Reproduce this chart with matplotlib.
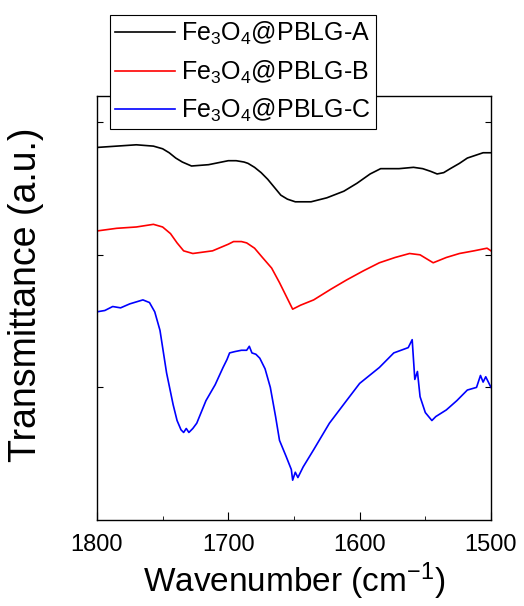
import matplotlib
matplotlib.use('Agg')
import matplotlib.pyplot as plt
from matplotlib import rcParams

rcParams['font.family'] = 'Liberation Sans'
rcParams['mathtext.fontset'] = 'custom'
rcParams['mathtext.rm'] = 'Liberation Sans'
rcParams['mathtext.it'] = 'Liberation Sans'

# 读图得到的数据（纵轴为任意单位，曲线已错开）
wn_a = [1800, 1785, 1770, 1757, 1750, 1745, 1740, 1735, 1728, 1715, 1705, 1700, 1694, 1688,
        1685, 1680, 1675, 1670, 1665, 1660, 1655, 1649, 1637, 1625, 1612, 1602, 1592, 1584,
        1570, 1559, 1552, 1546, 1541, 1536, 1531, 1524, 1518, 1512, 1506, 1500]
t_a = [2.81, 2.82, 2.83, 2.82, 2.80, 2.77, 2.73, 2.70, 2.67, 2.68, 2.70, 2.71, 2.71, 2.70,
       2.69, 2.66, 2.62, 2.57, 2.51, 2.45, 2.42, 2.40, 2.40, 2.43, 2.48, 2.54, 2.61, 2.65,
       2.65, 2.66, 2.65, 2.63, 2.61, 2.62, 2.65, 2.69, 2.73, 2.75, 2.77, 2.77]

wn_b = [1800, 1785, 1770, 1757, 1750, 1744, 1739, 1734, 1727, 1712, 1700, 1696, 1690, 1686,
        1680, 1674, 1667, 1661, 1655, 1651, 1645, 1635, 1622, 1610, 1597, 1585, 1573, 1562,
        1554, 1549, 1544, 1534, 1524, 1513, 1503, 1500]
t_b = [2.18, 2.20, 2.21, 2.23, 2.21, 2.16, 2.09, 2.03, 2.01, 2.03, 2.08, 2.10, 2.10, 2.09,
       2.05, 1.98, 1.90, 1.79, 1.67, 1.59, 1.62, 1.66, 1.74, 1.81, 1.88, 1.94, 1.98, 2.01,
       2.00, 1.97, 1.94, 1.98, 2.01, 2.03, 2.05, 2.03]

wn_c = [1800, 1794, 1788, 1782, 1775, 1765, 1760, 1756, 1752, 1747, 1742, 1739, 1736, 1734,
        1732, 1730, 1727, 1724, 1717, 1710, 1704, 1701, 1699, 1695, 1690, 1686, 1684, 1682,
        1679, 1676, 1672, 1668, 1664, 1661, 1656, 1652, 1651, 1649, 1647, 1643, 1635, 1623,
        1610, 1600, 1585, 1574, 1563, 1560, 1558, 1556, 1554, 1550, 1545, 1542, 1534, 1526,
        1518, 1511, 1508, 1506, 1504, 1500]
t_c = [1.57, 1.58, 1.61, 1.60, 1.63, 1.66, 1.64, 1.57, 1.43, 1.11, 0.87, 0.75, 0.68, 0.66,
       0.69, 0.66, 0.69, 0.73, 0.90, 1.02, 1.15, 1.21, 1.26, 1.27, 1.28, 1.28, 1.31, 1.26,
       1.25, 1.22, 1.14, 1.00, 0.78, 0.60, 0.48, 0.38, 0.30, 0.36, 0.32, 0.40, 0.53, 0.73,
       0.90, 1.03, 1.15, 1.26, 1.30, 1.36, 1.06, 1.12, 0.93, 0.81, 0.75, 0.78, 0.83, 0.90,
       0.98, 1.00, 1.09, 1.04, 1.08, 1.00]

labels = [r'Fe$_3$O$_4$@PBLG-A', r'Fe$_3$O$_4$@PBLG-B', r'Fe$_3$O$_4$@PBLG-C']
colors = ['black', 'red', 'blue']

fig = plt.figure(figsize=(5.24, 6.06), dpi=100)
ax = fig.add_axes([0.185, 0.142, 0.752, 0.700])

ax.plot(wn_a, t_a, color=colors[0], lw=1.2, label=labels[0])
ax.plot(wn_b, t_b, color=colors[1], lw=1.2, label=labels[1])
ax.plot(wn_c, t_c, color=colors[2], lw=1.2, label=labels[2])

ax.set_xlim(1800, 1500)
ax.set_ylim(0, 3.2)
ax.set_xticks([1800, 1700, 1600, 1500])
ax.set_xticks([1750, 1650, 1550], minor=True)
ax.set_yticks([1, 2, 3])
ax.set_yticklabels([])
ax.tick_params(axis='x', which='major', direction='in', length=6, labelsize=17, pad=10)
ax.tick_params(axis='x', which='minor', direction='in', length=3)
ax.tick_params(axis='y', direction='in', length=4, right=True)
for s in ax.spines.values():
    s.set_linewidth(1.0)

ax.set_xlabel('Wavenumber (cm$^{-1}$)', fontsize=24)
ax.set_ylabel('Transmittance (a.u.)', fontsize=27)
ax.xaxis.set_label_coords(0.5, -0.095)
ax.yaxis.set_label_coords(-0.135, 0.53)

leg = ax.legend(loc='upper left', bbox_to_anchor=(110 / 524, 1 - 15 / 606),
                bbox_transform=fig.transFigure, borderaxespad=0, fontsize=18,
                fancybox=False, edgecolor='black', framealpha=1, handlelength=2.4,
                handletextpad=0.25, labelspacing=0.45, borderpad=0.2)
leg.get_frame().set_linewidth(0.8)

fig.savefig('out.png', dpi=100)
